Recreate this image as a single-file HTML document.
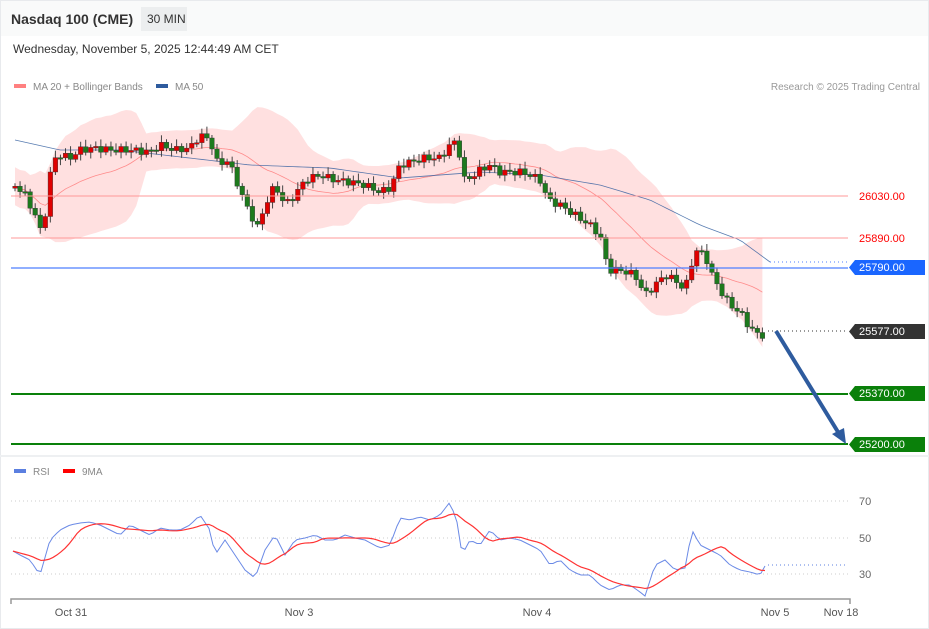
<!DOCTYPE html>
<html><head><meta charset="utf-8"><style>
body{margin:0;background:#fff;font-family:"Liberation Sans",sans-serif;}
#w{position:relative;width:929px;height:629px;overflow:hidden;background:#fff;}
svg{position:absolute;left:0;top:0}
</style></head><body><div id="w">
<svg id="s" width="929" height="629" xmlns="http://www.w3.org/2000/svg">
<rect x="0" y="0" width="929" height="629" fill="#fff"/>
<rect x="0" y="0" width="929" height="36" fill="#f9fafa"/>
<rect x="0.5" y="0.5" width="928" height="628" fill="none" stroke="#e8eaed"/>
<rect x="141" y="7" width="46" height="24" fill="#eceeef"/>
<text x="11" y="24" font-size="14" font-weight="bold" fill="#333">Nasdaq 100 (CME)</text>
<text x="147" y="23" font-size="12" fill="#333">30 MIN</text>
<text x="13" y="53" font-size="12" fill="#333">Wednesday, November 5, 2025 12:44:49 AM CET</text>
<rect x="14" y="84" width="12" height="4" fill="#ff8080"/>
<text x="33" y="90" font-size="10" fill="#888">MA 20 + Bollinger Bands</text>
<rect x="156" y="84" width="12" height="4" fill="#2e5b9e"/>
<text x="175" y="90" font-size="10" fill="#888">MA 50</text>
<text x="920" y="90" font-size="10" fill="#999" text-anchor="end">Research © 2025 Trading Central</text>
<line x1="0" y1="456" x2="929" y2="456" stroke="#eef0f2" stroke-width="2"/>
<g id="main"></g>
<line x1="11" y1="196" x2="848" y2="196" stroke="#ff9999" stroke-width="1"/>
<line x1="11" y1="238" x2="848" y2="238" stroke="#ff9999" stroke-width="1"/>
<line x1="11" y1="268" x2="848" y2="268" stroke="#4d7fff" stroke-width="1.2"/>
<line x1="770" y1="262" x2="848" y2="262" stroke="#4d7fff" stroke-dasharray="1,3"/>
<line x1="768" y1="331" x2="848" y2="331" stroke="#333" stroke-dasharray="1,3"/>
<line x1="11" y1="394" x2="848" y2="394" stroke="#0a800a" stroke-width="2"/>
<line x1="11" y1="444" x2="848" y2="444" stroke="#0a800a" stroke-width="2"/>
<line x1="776" y1="331" x2="838" y2="432" stroke="#2e5b9e" stroke-width="4"/>
<polygon points="846,444 832,434 844,428" fill="#2e5b9e"/>
<text x="859" y="200" font-size="11" fill="#f00">26030.00</text>
<text x="859" y="242" font-size="11" fill="#f00">25890.00</text>
<polygon points="855,260 925,260 925,275 855,275 849,267.5" fill="#1a66ff"/>
<text x="859" y="271" font-size="11" fill="#fff">25790.00</text>
<polygon points="855,324 925,324 925,339 855,339 849,331.5" fill="#333"/>
<text x="859" y="335" font-size="11" fill="#fff">25577.00</text>
<polygon points="855,386 925,386 925,401 855,401 849,393.5" fill="#0a800a"/>
<text x="859" y="397" font-size="11" fill="#fff">25370.00</text>
<polygon points="855,437 925,437 925,452 855,452 849,444.5" fill="#0a800a"/>
<text x="859" y="448" font-size="11" fill="#fff">25200.00</text>
<rect x="14" y="469" width="12" height="4" fill="#5b7fe0"/>
<text x="33" y="475" font-size="10" fill="#888">RSI</text>
<rect x="63" y="469" width="12" height="4" fill="#f00"/>
<text x="82" y="475" font-size="10" fill="#888">9MA</text>
<g stroke="#ccc" stroke-dasharray="1,3">
<line x1="11" y1="501" x2="848" y2="501"/><line x1="11" y1="538" x2="848" y2="538"/><line x1="11" y1="574" x2="848" y2="574"/></g>
<text x="859" y="505" font-size="11" fill="#666">70</text>
<text x="859" y="542" font-size="11" fill="#666">50</text>
<text x="859" y="578" font-size="11" fill="#666">30</text>
<line x1="768" y1="565" x2="848" y2="565" stroke="#5b7fe0" stroke-dasharray="1,3"/>
<g id="rsi"></g>
<path d="M11,604 V599 H850 V604" fill="none" stroke="#999" stroke-width="1.5"/>
<g font-size="11" fill="#555" text-anchor="middle">
<text x="71" y="616">Oct 31</text><text x="299" y="616">Nov 3</text><text x="537" y="616">Nov 4</text><text x="775" y="616">Nov 5</text><text x="841" y="616">Nov 18</text></g>
</svg>
<script>
(function(){
var NS="http://www.w3.org/2000/svg";
function el(p,t,a){var e=document.createElementNS(NS,t);for(var k in a)e.setAttribute(k,a[k]);p.appendChild(e);return e;}
function interp(pts,x){for(var i=1;i<pts.length;i++){if(x<=pts[i][0]){var a=pts[i-1],b=pts[i];return a[1]+(b[1]-a[1])*(x-a[0])/(b[0]-a[0]);}}return pts[pts.length-1][1];}
var P=[[15,185],[25,195],[35,215],[42,235],[48,195],[52,160],[60,155],[70,158],[80,150],[95,148],[110,150],[130,150],[150,152],[160,145],[175,150],[190,148],[200,135],[210,140],[218,165],[228,160],[238,185],[248,210],[258,228],[265,205],[275,185],[285,205],[295,195],[305,180],[320,175],[335,180],[350,182],[365,185],[380,192],[390,188],[400,165],[410,162],[425,158],[440,158],[450,145],[458,140],[462,180],[470,178],[480,170],[490,165],[500,172],[510,172],[520,172],[530,175],[540,180],[548,200],[560,205],[575,215],[590,225],[600,235],[608,270],[620,270],[635,275],[645,295],[655,285],[665,275],[675,280],[685,290],[695,250],[705,255],[712,275],[720,290],[730,305],[740,312],[748,325],[758,335],[765,335]];
var step=5.05,xs=[],cl=[];
for(var x=15;x<=766;x+=step){xs.push(x);cl.push(interp(P,x)+Math.sin(x*1.7)*3.5);}
var g=document.getElementById("main");
var up=[],lo=[],mid=[];
for(var i=0;i<xs.length;i++){var s=Math.max(0,i-19),n=i-s+1,m=0;for(var j=s;j<=i;j++)m+=cl[j];m/=n;var v=0;for(j=s;j<=i;j++)v+=(cl[j]-m)*(cl[j]-m);var sd=Math.sqrt(v/n);sd=Math.max(sd,8);mid.push(m);up.push(m-2*sd-3);lo.push(m+2*sd+3);}
var d="M"+xs.map(function(x,i){return x+","+up[i]}).join(" L")+" L"+xs.slice().reverse().map(function(x,k){return x+","+lo[xs.length-1-k]}).join(" L")+"Z";
el(g,"path",{d:d,fill:"#ffd6d6","fill-opacity":"0.75"});
el(g,"polyline",{points:xs.map(function(x,i){return x+","+mid[i]}).join(" "),fill:"none",stroke:"#ff8a8a","stroke-width":"0.8"});
var M50=[[15,140],[60,150],[120,150],[250,165],[330,168],[400,178],[480,172],[540,175],[600,185],[650,200],[700,225],[740,240],[770,262]];
el(g,"polyline",{points:xs.map(function(x){return x+","+interp(M50,x)}).join(" ")+" 770,262",fill:"none",stroke:"#2e5b9e","stroke-width":"0.8","stroke-opacity":"0.8"});
for(i=0;i<xs.length;i++){var o=i?cl[i-1]:cl[0]+2,c=cl[i];var tp=Math.min(o,c),bt=Math.max(o,c);if(bt-tp<1.5)bt=tp+1.5;
el(g,"line",{x1:xs[i],x2:xs[i],y1:tp-3-(i%3)*2,y2:bt+3+(i%2)*3,stroke:"#444","stroke-width":"1"});
el(g,"rect",{x:xs[i]-2.3,y:tp,width:4.6,height:bt-tp,fill:c>o?"#1d7a1d":"#e00000",stroke:"#333","stroke-width":"0.4"});}
var R=[[11,550],[20,555],[30,560],[40,575],[50,540],[60,530],[70,525],[80,523],[90,522],[100,525],[110,530],[120,535],[130,525],[140,530],[150,535],[160,528],[170,530],[180,530],[190,525],[200,515],[210,530],[215,555],[225,540],[235,555],[245,570],[255,578],[265,550],[275,535],[285,555],[295,540],[305,538],[315,535],[325,540],[335,540],[345,535],[355,538],[365,540],[380,548],[390,545],[400,518],[410,520],[420,517],[430,520],[440,515],[450,502],[458,525],[462,555],[470,540],[480,545],[490,530],[500,540],[510,538],[520,540],[530,545],[540,550],[550,565],[560,560],[570,570],[580,575],[590,575],[600,585],[610,590],[620,585],[630,585],[640,592],[645,596],[655,565],[665,560],[675,570],[685,568],[692,530],[700,545],[710,550],[720,555],[730,565],[740,570],[750,572],[760,575],[765,566],[768,566]];
var rg=document.getElementById("rsi"),rx=[],ry=[];
for(x=13;x<=768;x+=4){rx.push(x);ry.push(interp(R,x));}
var ma=ry.map(function(v,i){var s=Math.max(0,i-8),t=0;for(var j=s;j<=i;j++)t+=ry[j];return t/(i-s+1);});
el(rg,"polyline",{points:rx.map(function(x,i){return x+","+ry[i]}).join(" "),fill:"none",stroke:"#6b8ae6","stroke-width":"1"});
el(rg,"polyline",{points:rx.map(function(x,i){return x+","+ma[i]}).join(" "),fill:"none",stroke:"#f33","stroke-width":"1.2"});
})();
</script>
</div></body></html>
